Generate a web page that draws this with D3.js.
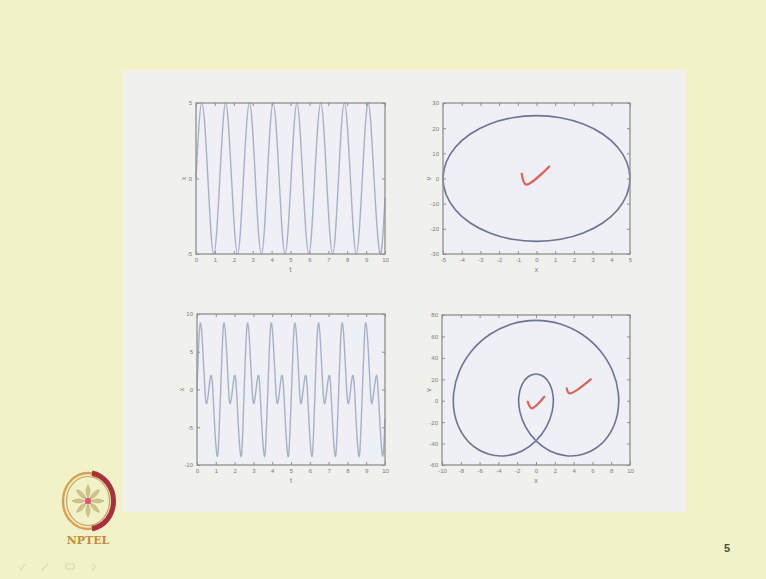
<!DOCTYPE html>
<html>
<head>
<meta charset="utf-8">
<script src="https://cdn.jsdelivr.net/npm/d3@7"></script>
<style>
  body { margin: 0; background: #f1f2c7; }
  svg { display: block; }
</style>
</head>
<body>
<svg id="slide" width="766" height="579"></svg>
<script>
// ---- Displacement x(t), single tone ----
const tSingle = [0.00,0.31,0.63,0.94,1.26,1.57,1.88,2.20,2.51,2.83,3.14,3.46,3.77,4.08,4.40,4.71,
                 5.03,5.34,5.65,5.97,6.28,6.60,6.91,7.23,7.54,7.85,8.17,8.48,8.80,9.11,9.42,9.74,10.00];
const xSingle = [0,5,0,-5, 0,5,0,-5, 0,5,0,-5, 0,5,0,-5,
                 0,5,0,-5, 0,5,0,-5, 0,5,0,-5, 0,5,0,-5, -1.3];

// ---- Phase portrait (x, v) of the single tone ----
const ellipseX = [0,1.29,2.5,3.54,4.33,4.83,5,4.83,4.33,3.54,2.5,1.29,
                  0,-1.29,-2.5,-3.54,-4.33,-4.83,-5,-4.83,-4.33,-3.54,-2.5,-1.29];
const ellipseV = [25,24.15,21.65,17.68,12.5,6.47,0,-6.47,-12.5,-17.68,-21.65,-24.15,
                  -25,-24.15,-21.65,-17.68,-12.5,-6.47,0,6.47,12.5,17.68,21.65,24.15];

// ---- Displacement x(t), tone plus second harmonic ----
const tDouble = [
  0.00,0.09,0.19,0.30,0.42,0.52,0.63,0.74,0.84,0.94,1.07,1.16,
  1.26,1.35,1.44,1.56,1.68,1.77,1.89,2.00,2.10,2.20,2.33,2.42,
  2.51,2.60,2.70,2.81,2.93,3.03,3.14,3.26,3.35,3.45,3.58,3.67,
  3.77,3.86,3.96,4.07,4.19,4.29,4.40,4.51,4.61,4.71,4.84,4.93,
  5.03,5.12,5.21,5.33,5.45,5.54,5.65,5.77,5.87,5.97,6.10,6.19,
  6.28,6.37,6.47,6.58,6.70,6.80,6.91,7.03,7.12,7.22,7.35,7.44,
  7.54,7.63,7.73,7.84,7.96,8.06,8.17,8.28,8.38,8.48,8.61,8.70,
  8.80,8.89,8.98,9.10,9.22,9.31,9.42,9.54,9.63,9.74,9.87,9.96,
  10.00];
const xDouble = [
  0,6.09,8.80,5.69,0,-1.85,0,1.85,0,-4.88,-8.80,-6.44,
  0,6.09,8.80,5.69,0,-1.85,0,1.85,0,-4.88,-8.80,-6.44,
  0,6.09,8.80,5.69,0,-1.85,0,1.85,0,-4.88,-8.80,-6.44,
  0,6.09,8.80,5.69,0,-1.85,0,1.85,0,-4.88,-8.80,-6.44,
  0,6.09,8.80,5.69,0,-1.85,0,1.85,0,-4.88,-8.80,-6.44,
  0,6.09,8.80,5.69,0,-1.85,0,1.85,0,-4.88,-8.80,-6.44,
  0,6.09,8.80,5.69,0,-1.85,0,1.85,0,-4.88,-8.80,-6.44,
  0,6.09,8.80,5.69,0,-1.85,0,1.85,0,-4.88,-8.80,-6.44,
  -3.84];

// ---- Phase portrait (x, v) of the two-tone signal ----
const loopX = [0,2.578,4.924,6.830,8.138,8.754,8.660,7.912,6.634,5,3.214,1.485,
               0,-1.094,-1.710,-1.830,-1.504,-0.842,0,0.842,1.504,1.830,1.710,1.094,
               0,-1.485,-3.214,-5,-6.634,-7.912,-8.660,-8.754,-8.138,-6.830,-4.924,-2.578];
const loopV = [75,71.60,61.79,46.65,27.83,7.39,-12.5,-29.75,-42.64,-50,-51.33,-46.85,
               -37.5,-24.75,-10.47,3.35,14.81,22.37,25,22.37,14.81,3.35,-10.47,-24.75,
               -37.5,-46.85,-51.33,-50,-42.64,-29.75,-12.5,7.39,27.83,46.65,61.79,71.60];

// ---- Tick labels ----
const ticksTime = [0,1,2,3,4,5,6,7,8,9,10];
const ticksX5 = [-5,0,5];
const ticksX10 = [-10,-5,0,5,10];
const ticksPosSmall = [-5,-4,-3,-2,-1,0,1,2,3,4,5];
const ticksV30 = [-30,-20,-10,0,10,20,30];
const ticksPosLarge = [-10,-8,-6,-4,-2,0,2,4,6,8,10];
const ticksV80 = [-60,-40,-20,0,20,40,60,80];

// ---- Hand-drawn tick marks (in data units of their axes) ----
const checkEllipseX = [-0.79,-0.56,0.68];
const checkEllipseV = [1.9,-2.4,4.8];
const checkInnerX = [-0.88,-0.46,0.88];
const checkInnerV = [-0.9,-7.1,3.7];
const checkOuterX = [3.27,3.54,5.82];
const checkOuterV = [11.6,6.9,20.0];

const svg = d3.select("#slide");

// slide background and white content panel
svg.append("rect").attr("width", 766).attr("height", 579).attr("fill", "#f1f2c7");
svg.append("rect").attr("x", 123).attr("y", 70).attr("width", 563).attr("height", 442)
   .attr("fill", "#f0f0ec");

const AXIS = "#8f8f8f", TEXT = "#7c7c7c";

function panel(spec) {
  const { x0, y0, w, h } = spec.box;
  const g = svg.append("g").attr("transform", `translate(${x0},${y0})`);
  const xs = d3.scaleLinear().domain(spec.xDomain).range([0, w]);
  const ys = d3.scaleLinear().domain(spec.yDomain).range([h, 0]);

  g.append("rect").attr("width", w).attr("height", h).attr("fill", "#eef0f5");

  const clipId = "clip" + spec.id;
  g.append("clipPath").attr("id", clipId)
    .append("rect").attr("x", -1).attr("y", -1).attr("width", w + 2).attr("height", h + 2);

  const line = d3.line().x(d => xs(d[0])).y(d => ys(d[1])).curve(spec.curve);
  g.append("path")
    .datum(d3.zip(spec.xv, spec.yv))
    .attr("clip-path", `url(#${clipId})`)
    .attr("d", line)
    .attr("fill", "none")
    .attr("stroke", spec.color)
    .attr("stroke-width", spec.width);

  const style = s => {
    s.select(".domain").remove();
    s.selectAll("line").attr("stroke", AXIS).attr("stroke-width", 1);
    s.selectAll("text").attr("fill", TEXT).attr("font-size", 6)
      .attr("font-family", "Liberation Sans, Arial, sans-serif");
  };
  const fmt = d => String(d);
  g.append("g").attr("transform", `translate(0,${h})`)
    .call(d3.axisBottom(xs).tickValues(spec.xTicks).tickSize(-3).tickPadding(4).tickFormat(fmt)).call(style);
  g.append("g")
    .call(d3.axisTop(xs).tickValues(spec.xTicks).tickSize(-3).tickFormat("")).call(style);
  g.append("g")
    .call(d3.axisLeft(ys).tickValues(spec.yTicks).tickSize(-3).tickPadding(4).tickFormat(fmt)).call(style);
  g.append("g").attr("transform", `translate(${w},0)`)
    .call(d3.axisRight(ys).tickValues(spec.yTicks).tickSize(-3).tickFormat("")).call(style);

  g.append("rect").attr("width", w).attr("height", h)
    .attr("fill", "none").attr("stroke", AXIS).attr("stroke-width", 1.3);

  g.append("text").attr("x", w / 2).attr("y", h + 18).attr("text-anchor", "middle")
    .attr("fill", TEXT).attr("font-size", 7).attr("font-family", "Liberation Sans, Arial, sans-serif")
    .text(spec.xLabel);
  g.append("text").attr("transform", `translate(${-spec.yLabelGap},${h / 2}) rotate(-90)`)
    .attr("text-anchor", "middle").attr("dy", "0.35em")
    .attr("fill", TEXT).attr("font-size", 7).attr("font-family", "Liberation Sans, Arial, sans-serif")
    .text(spec.yLabel);

  // red hand-drawn ticks
  const checkLine = d3.line().x(d => xs(d[0])).y(d => ys(d[1])).curve(d3.curveCatmullRom.alpha(0.5));
  (spec.checks || []).forEach(c => {
    g.append("path").datum(d3.zip(c[0], c[1])).attr("d", checkLine)
      .attr("fill", "none").attr("stroke", "#d9534a").attr("stroke-width", 2.2)
      .attr("stroke-linecap", "round").attr("stroke-linejoin", "round").attr("opacity", 0.9);
  });
}

panel({ id: 1, box: { x0: 196, y0: 103, w: 189, h: 151 },
  xDomain: [0, 10], yDomain: [-5, 5], xTicks: ticksTime, yTicks: ticksX5,
  xv: tSingle, yv: xSingle, curve: d3.curveNatural,
  color: "#a9b0c6", width: 1.4, xLabel: "t", yLabel: "x", yLabelGap: 12 });

panel({ id: 2, box: { x0: 443, y0: 103, w: 187, h: 151 },
  xDomain: [-5, 5], yDomain: [-30, 30], xTicks: ticksPosSmall, yTicks: ticksV30,
  xv: ellipseX, yv: ellipseV, curve: d3.curveCatmullRomClosed.alpha(0.5),
  color: "#6d7396", width: 1.6, xLabel: "x", yLabel: "v", yLabelGap: 14,
  checks: [[checkEllipseX, checkEllipseV]] });

panel({ id: 3, box: { x0: 197, y0: 314, w: 188, h: 151 },
  xDomain: [0, 10], yDomain: [-10, 10], xTicks: ticksTime, yTicks: ticksX10,
  xv: tDouble, yv: xDouble, curve: d3.curveNatural,
  color: "#a9b0c6", width: 1.4, xLabel: "t", yLabel: "x", yLabelGap: 15 });

panel({ id: 4, box: { x0: 442, y0: 315, w: 188, h: 150 },
  xDomain: [-10, 10], yDomain: [-60, 80], xTicks: ticksPosLarge, yTicks: ticksV80,
  xv: loopX, yv: loopV, curve: d3.curveCatmullRomClosed.alpha(0.5),
  color: "#6d7396", width: 1.6, xLabel: "x", yLabel: "v", yLabelGap: 13,
  checks: [[checkInnerX, checkInnerV], [checkOuterX, checkOuterV]] });

// ---- NPTEL emblem ----
const logo = svg.append("g").attr("transform", "translate(88,501)");
const arc = d3.arc();
// outer ochre ring
logo.append("ellipse").attr("rx", 25).attr("ry", 28)
  .attr("fill", "none").attr("stroke", "#d4a255").attr("stroke-width", 2.4);
logo.append("ellipse").attr("rx", 21.5).attr("ry", 24.5)
  .attr("fill", "none").attr("stroke", "#c98a3c").attr("stroke-width", 1.2).attr("opacity", 0.8);
// maroon crescent on the right
logo.append("path")
  .attr("transform", "scale(1,1.1)")
  .attr("d", arc({ innerRadius: 23, outerRadius: 28, startAngle: Math.PI * 0.05, endAngle: Math.PI * 0.95 }))
  .attr("fill", "#a8303f");
// wheel spokes
const spokes = d3.range(8);
logo.selectAll(".spoke").data(spokes).join("path")
  .attr("transform", d => `rotate(${d * 45})`)
  .attr("d", "M0,-3 C3,-8 2,-13 0,-16 C-2,-13 -3,-8 0,-3Z")
  .attr("fill", "#cfc28a").attr("stroke", "#b9a866").attr("stroke-width", 0.5);
logo.append("circle").attr("r", 3.2).attr("fill", "#e0557c");
logo.append("text").attr("x", 0).attr("y", 43).attr("text-anchor", "middle")
  .attr("font-family", "DejaVu Serif, serif").attr("font-weight", "bold").attr("font-size", 11)
  .attr("fill", "#c88a3a").text("NPTEL");

// faint slideshow controls
const ctrl = svg.append("g").attr("fill", "none").attr("stroke", "#dcdcb8").attr("stroke-width", 1.2);
ctrl.append("path").attr("d", "M18,566 l3,4 l4,-6");
ctrl.append("path").attr("d", "M42,570 l6,-6");
ctrl.append("rect").attr("x", 66).attr("y", 564).attr("width", 8).attr("height", 5);
ctrl.append("path").attr("d", "M92,564 l4,3 l-4,3");

// page number
svg.append("text").attr("x", 727).attr("y", 552).attr("text-anchor", "middle")
  .attr("font-family", "Liberation Sans, Arial, sans-serif").attr("font-weight", "bold")
  .attr("font-size", 11).attr("fill", "#4f4f26").text("5");
</script>
</body>
</html>
